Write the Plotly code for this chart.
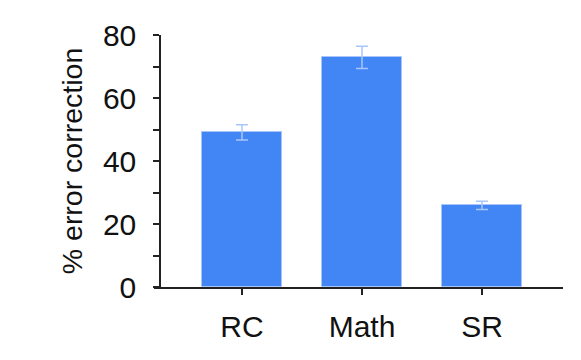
import plotly.graph_objects as go

# data
categories = ["RC", "Math", "SR"]
values = [49.1, 72.9, 25.9]
errors = [2.4, 3.5, 1.3]

# page body has an 8px margin, so the figure is 16px smaller than the window
W, H = 565, 344
L, R, T, B = 146, 10, 27, 65
x_lo, x_hi = -0.733, 2.675
yax_pos = 6 / (W - L - R)

font = dict(family="Liberation Sans, Arial, sans-serif", size=30, color="#111111")
title_font = dict(family="Liberation Sans, Arial, sans-serif", size=28.5, color="#111111")

fig = go.Figure()
fig.add_trace(go.Bar(
    x=list(range(len(categories))),
    y=values,
    width=0.66,
    marker=dict(color="#4285f4", line=dict(color="#a9c6fb", width=1)),
    error_y=dict(type="data", array=errors, visible=True,
                 color="#a9c6fb", thickness=1.5, width=6),
    showlegend=False,
))

fig.update_layout(
    width=W, height=H,
    margin=dict(l=L, r=R, t=T, b=B),
    plot_bgcolor="white", paper_bgcolor="white",
    font=font,
    bargap=0,
    xaxis=dict(
        range=[x_lo, x_hi], tickvals=list(range(len(categories))),
        ticktext=categories, showline=True, linecolor="#222222", linewidth=1.5,
        ticks="outside", ticklen=6, tickwidth=1.5, tickcolor="#222222",
        showgrid=False, zeroline=False, tickfont=font, automargin=False,
        ticklabelstandoff=6,
    ),
    yaxis=dict(
        range=[0, 80], dtick=20, anchor="free", position=yax_pos,
        showline=True, linecolor="#222222", linewidth=1.5,
        ticks="outside", ticklen=6, tickwidth=1.5, tickcolor="#222222",
        minor=dict(dtick=10, ticks="outside", ticklen=6, tickwidth=1.5,
                   tickcolor="#222222"),
        showgrid=False, zeroline=False, tickfont=font, automargin=False,
        ticklabelstandoff=11,
        title=dict(text="% error correction", font=title_font, standoff=11),
    ),
    # overlaid axes for the inner half of the crossing ticks
    xaxis2=dict(
        overlaying="x", anchor="y", range=[x_lo, x_hi],
        tickvals=list(range(len(categories))), showticklabels=False,
        ticks="inside", ticklen=6, tickwidth=1.5, tickcolor="#222222",
        showline=False, showgrid=False, zeroline=False, automargin=False,
    ),
    yaxis2=dict(
        overlaying="y", anchor="free", position=yax_pos, range=[0, 80],
        dtick=10, showticklabels=False,
        ticks="inside", ticklen=6, tickwidth=1.5, tickcolor="#222222",
        showline=False, showgrid=False, zeroline=False, automargin=False,
    ),
)

fig.write_html("out.html")
